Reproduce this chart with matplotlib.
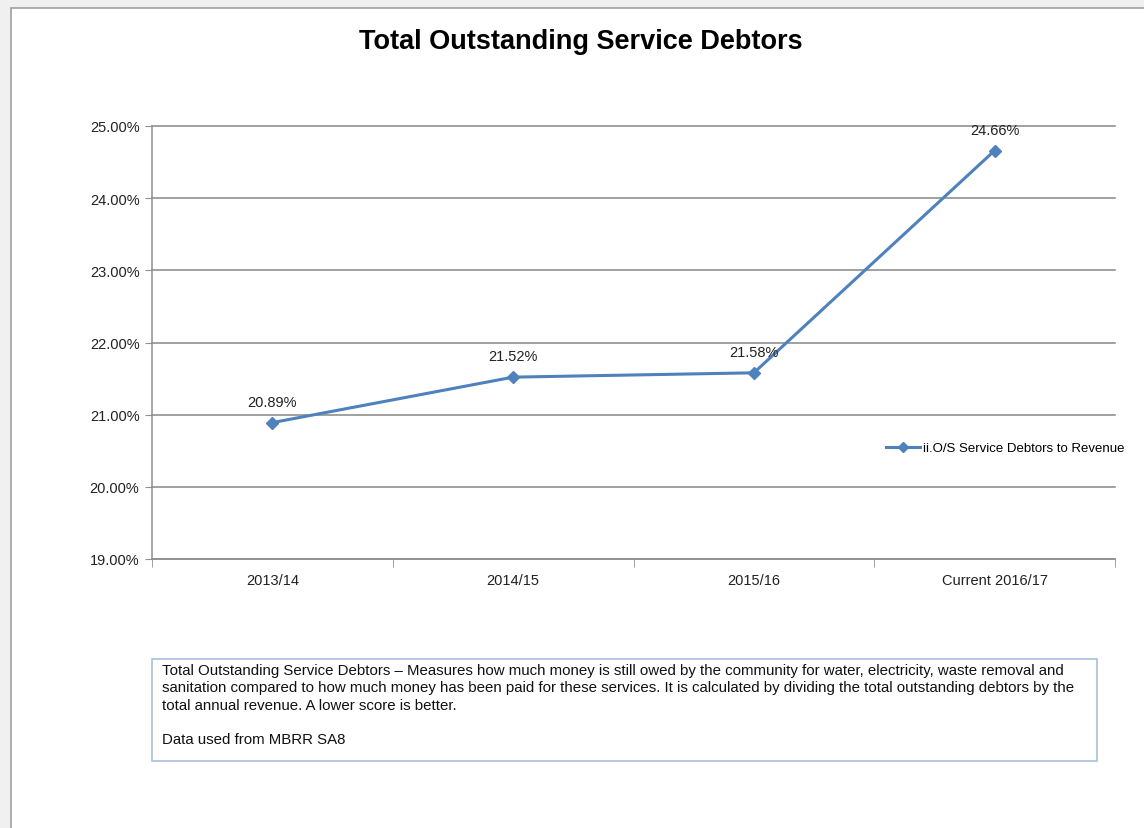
import matplotlib.pyplot as plt
from matplotlib.ticker import FuncFormatter, MultipleLocator
from matplotlib.patches import Rectangle
from matplotlib.lines import Line2D

plt.rcParams['font.family'] = ['Liberation Sans Narrow', 'Liberation Sans', 'DejaVu Sans']

years = ["2013/14", "2014/15", "2015/16", "Current 2016/17"]
ratio = [20.89, 21.52, 21.58, 24.66]
series_name = "ii.O/S Service Debtors to Revenue"
note = ("Total Outstanding Service Debtors \u2013 Measures how much money is still owed by the community for water, electricity, waste removal and\n"
        "sanitation compared to how much money has been paid for these services. It is calculated by dividing the total outstanding debtors by the\n"
        "total annual revenue. A lower score is better.\n"
        "\n"
        "Data used from MBRR SA8")

W, H = 1144, 829
fig = plt.figure(figsize=(W / 100, H / 100), dpi=100)
fig.patch.set_facecolor('#f0f0f0')

# white chart sheet with grey border
fig.patches.append(Rectangle((11 / W, -0.05), 1.2, 1.05 - 9 / H,
                             transform=fig.transFigure, facecolor='white',
                             edgecolor='#a0a0a0', lw=1.2, zorder=-5))

ax = fig.add_axes([152 / W, 1 - 560 / H, (1115 - 152) / W, (560 - 127) / H])
ax.set_zorder(2)
ax.set_facecolor('white')
x = range(len(years))
blue = '#4f81bd'
ax.plot(x, ratio, color=blue, lw=2.2, marker='D', ms=6.5, zorder=3)

for xi, v in zip(x, ratio):
    ax.annotate(f"{v:.2f}%", (xi, v), xytext=(0, 10), textcoords='offset points',
                ha='center', va='bottom', fontsize=10.5, color='#222222')

ax.set_xlim(-0.5, len(years) - 0.5)
ax.set_ylim(19, 25)
ax.yaxis.set_major_locator(MultipleLocator(1))
ax.yaxis.set_major_formatter(FuncFormatter(lambda v, p: f"{v:.2f}%"))
ax.set_xticks(list(x))
ax.set_xticklabels(years)
ax.set_xticks([i - 0.5 for i in range(len(years) + 1)], minor=True)
ax.tick_params(axis='x', which='major', length=0, pad=10, labelsize=10.5, colors='#222222')
ax.tick_params(axis='x', which='minor', length=6, color='#909090', direction='out')
ax.tick_params(axis='y', length=5, color='#909090', labelsize=10.5, labelcolor='#222222', pad=4)
ax.grid(axis='y', color='#868686', lw=1.1)
for gl in ax.get_ygridlines():
    gl.set_clip_on(False)
ax.set_axisbelow(True)
for s in ['top', 'right']:
    ax.spines[s].set_visible(False)
for s in ['left', 'bottom']:
    ax.spines[s].set_color('#909090')
    ax.spines[s].set_linewidth(1.1)

fig.text(581 / W, 1 - 42 / H, "Total Outstanding Service Debtors", ha='center', va='center',
         fontsize=19.5, fontweight='bold', family=['Liberation Sans', 'DejaVu Sans'])

leg = ax.legend([Line2D([], [], color=blue, lw=2.2, marker='D', ms=5)], [series_name],
                loc='center left', bbox_to_anchor=(886 / W, 1 - 449 / H),
                bbox_transform=fig.transFigure, frameon=False, fontsize=9.5,
                handlelength=2.6, handletextpad=0.2, borderaxespad=0, borderpad=0)

# description box below the chart
fig.patches.append(Rectangle((152 / W, 1 - 762 / H), (1097 - 152) / W, (762 - 660) / H,
                             transform=fig.transFigure, facecolor='white',
                             edgecolor='#a8c0dc', lw=1.2, zorder=1))
fig.text(162 / W, 1 - 664 / H, note, ha='left', va='top', fontsize=10.8,
         color='#111111', linespacing=1.3, zorder=2)

fig.savefig('out.png', dpi=100, facecolor=fig.get_facecolor())
